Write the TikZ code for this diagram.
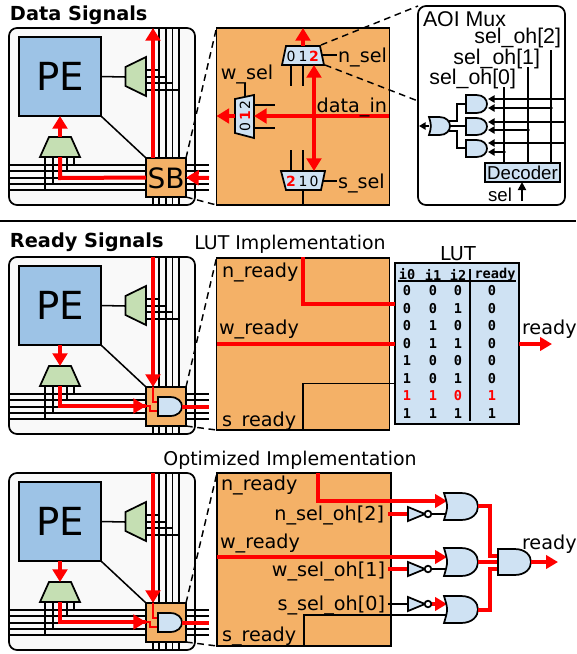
\documentclass[tikz,border=0pt]{standalone}
\usepackage{fontspec}
\setmainfont{DejaVu Sans}
\newfontfamily\arialf{Liberation Sans}
\newfontfamily\monof{DejaVu Sans Mono}
\usetikzlibrary{arrows.meta,calc}
\definecolor{pecol}{HTML}{9DC3E6}
\definecolor{muxcol}{HTML}{C5DFB3}
\definecolor{orcol}{HTML}{F4B167}
\definecolor{ltcol}{HTML}{CFE2F3}
\definecolor{tilecol}{HTML}{F9F9F9}
\tikzset{
  wire/.style={draw=black,line width=1.15pt},
  bd/.style={draw=black,line width=1.3pt,line join=miter},
  red wire/.style={draw=red,line width=3pt,line join=miter},
  red thin/.style={draw=red,line width=2.6pt,line join=miter},
  red arrow/.style={red wire,-{Triangle[length=9.5pt,width=11pt]}},
  red arrow small/.style={red thin,-{Triangle[length=9pt,width=10pt]}},
  red both/.style={red wire,{Triangle[length=9.5pt,width=11pt]}-{Triangle[length=9.5pt,width=11pt]}},
  blk arrow/.style={wire,-{Triangle[length=5pt,width=5.5pt]}},
  dash line/.style={draw=black,line width=1.1pt,dash pattern=on 5pt off 3.5pt},
  box/.style={draw=black,line width=1.3pt,inner sep=0pt,outer sep=0pt},
  lbl/.style={inner sep=0pt,outer sep=0pt,yshift=-1.5pt,font=\fontsize{14.4pt}{16pt}\selectfont},
  ttl/.style={inner sep=0pt,outer sep=0pt,yshift=-1.5pt,font=\fontsize{14.5pt}{16pt}\selectfont\bfseries},
  ar/.style={inner sep=0pt,outer sep=0pt,yshift=-1pt,font=\arialf\fontsize{16pt}{17pt}\selectfont},
  sm/.style={inner sep=0pt,outer sep=0pt,font=\fontsize{10.5pt}{11pt}\selectfont},
  smr/.style={sm,text=red,font=\fontsize{10.5pt}{11pt}\selectfont\bfseries},
  tb/.style={inner sep=0pt,outer sep=0pt,font=\monof\bfseries\fontsize{10.2pt}{11pt}\selectfont},
}
% gates: name, x1, y1, x2, y2
\newcommand\andgate[5]{%
  \draw[bd,fill=ltcol] (#2,#3) -- ({#2+0.5*(#4-#2)},#3) .. controls ({#2+0.5*(#4-#2)+0.6667*(#4-#2)},#3) and ({#2+0.5*(#4-#2)+0.6667*(#4-#2)},#5) .. ({#2+0.5*(#4-#2)},#5) -- (#2,#5) -- cycle;
  \coordinate (#1o) at (#4,{0.5*(#3+#5)});
}
\newcommand\orgate[5]{%
  \draw[bd,fill=ltcol] (#2,#3) -- ({#2+0.5*(#4-#2)},#3) .. controls ({#2+0.5*(#4-#2)+0.6667*(#4-#2)},#3) and ({#2+0.5*(#4-#2)+0.6667*(#4-#2)},#5) .. ({#2+0.5*(#4-#2)},#5) -- (#2,#5) .. controls ({#2+0.12*(#4-#2)},{0.5*(#3+#5)}) .. (#2,#3) -- cycle;
  \coordinate (#1o) at (#4,{0.5*(#3+#5)});
}
% tile base: prefix, y-offset in px
\newcommand\tilebase[2]{%
  \begin{scope}[yshift={-0.75pt*#2}]
  \node[box,fill=tilecol,rounded corners=6pt,minimum width=139.5pt,minimum height=132.75pt] (#1tile) at (102,116.5) {};
  \foreach \yy in {165,171,184,190} {\draw[wire] (9,\yy) -- (209,\yy);}
  \draw[wire] (9,178) -- (209,178);
  \foreach \xx in {159,166,172.5,179} {\draw[wire] (\xx,28) -- (\xx,205);}
  \draw[wire] (153,28) -- (153,205);
  \draw[wire] (146,70) -- (159,70);
  \draw[wire] (146,77) -- (166,77);
  \draw[wire] (146,83) -- (172.5,83);
  \draw[wire] (146,90) -- (179,90);
  \draw[wire] (45,157) -- (45,190);
  \draw[wire] (53,157) -- (53,184);
  \draw[wire] (67,157) -- (67,171);
  \draw[wire] (74,157) -- (74,165);
  \node[box,fill=pecol,minimum width=61.5pt,minimum height=59.25pt,font=\fontsize{29pt}{30pt}\selectfont] (#1pe) at (60,76.5) {PE};
  \draw[bd,fill=muxcol] (125.5,67) -- (146,57) -- (146,96) -- (125.5,86) -- cycle;
  \coordinate (#1mr) at (125.5,77);
  \draw[wire] (#1pe.east) -- (#1mr);
  \draw[bd,fill=muxcol] (40,157) -- (80,157) -- (71,137) -- (49,137) -- cycle;
  \coordinate (#1mb) at (60,137);
  \coordinate (#1mbo) at (60,157);
  \node[box,fill=orcol,minimum width=30pt,minimum height=29.25pt,font=\fontsize{21pt}{22pt}\selectfont] (#1sb) at (166,177.5) {};
  \coordinate (#1sbt) at (153,158);
  \coordinate (#1top) at (153,28);
  \draw[wire] (#1pe.south east) -- (#1sb.north west);
  \end{scope}
}
% AND-in-switch-box for ready tiles: prefix, offset
\newcommand\readytile[2]{%
  \tilebase{#1}{#2}%
  \begin{scope}[yshift={-0.75pt*#2}]
  \draw[red wire] (#1mbo) -- (60,177) -- (146,177);
  \coordinate (#1l) at (146,177);
  \draw[red arrow] (60,177) -- (#1l);
  \draw[red thin,line width=2pt] (#1sbt) -- (153,173) -- (158,173);
  \draw[red thin,line width=2pt] (#1l) -- (150,177) -- (150,182) -- (158,182);
  \draw[red arrow] (#1top) -- (#1sbt);
  \draw[red arrow] (#1pe.south) -- (#1mb);
  \andgate{#1g}{158}{168}{182}{187}
  \coordinate (#1ge) at (209,177.5);
  \draw[red wire] (#1go) -- (#1ge);
  \end{scope}
}
\begin{document}
\begin{tikzpicture}[x=0.75pt,y=-0.75pt]
\useasboundingbox (0,0) rectangle (576,654);
\fill[white] (0,0) rectangle (576,654);

% ---------- titles
\node[ttl,anchor=west] (t1) at (10,13) {Data Signals};
\node[ttl,anchor=west] (t2) at (10,240) {Ready Signals};
\node[lbl,anchor=center,font=\fontsize{14.2pt}{16pt}\selectfont] (t3) at (290,242) {LUT Implementation};
\node[lbl,anchor=center,font=\fontsize{14.2pt}{16pt}\selectfont] (t4) at (290,458) {Optimized Implementation};
\coordinate (divl) at (0,221); \coordinate (divr) at (576,221);
\draw[wire] (divl) -- (divr);

% ---------- data tile
\tilebase{a}{0}
\node[inner sep=0pt,font=\fontsize{21pt}{22pt}\selectfont] (asbt) at (166,178) {SB};
\draw[red arrow] (asb.north -| atop) -- (atop);
\coordinate (aw) at (209,178);
\draw[red arrow] (aw) -- (asb.east);
\draw[red wire] (asb.west) -- (60,178) -- (ambo);
\draw[red arrow] (amb) -- (ape.south);

% ---------- data zoom panel
\node[box,fill=orcol,minimum width=129.75pt,minimum height=132.75pt] (p1) at (303,116.5) {};
\draw[dash line] (asb.north east) -- (p1.north west);
\draw[dash line] (asb.south east) -- (p1.south west);
% stubs
\foreach \xx in {291,303} {\draw[wire] (\xx,65) -- (\xx,86);\draw[wire] (\xx,150) -- (\xx,171);}
\draw[wire] (303,190) -- (303,205);
\draw[wire] (254,105) -- (275,105);
\draw[wire] (254,128) -- (275,128);
\draw[wire] (245,97) -- (245,83);
\draw[wire] (320,55) -- (337,55);
\draw[wire] (323,181) -- (337,181);
% muxes
\draw[bd,fill=ltcol] (282,65) -- (324,65) -- (320,46) -- (286,46) -- cycle;
\coordinate (mnt) at (303,46);
\coordinate (mnb) at (314,65);
\draw[bd,fill=ltcol] (281,171) -- (325,171) -- (321,190) -- (286,190) -- cycle;
\coordinate (mst) at (314,171);
\draw[bd,fill=ltcol] (235,99) -- (254,95) -- (254,138) -- (235,133) -- cycle;
\coordinate (mwr) at (254,116);
\coordinate (mwl) at (235,116);
\node[sm] (n0) at (291,56) {0};
\node[sm] (n1) at (303,56) {1};
\node[smr] (n2) at (314,56) {2};
\node[smr] (s2) at (291,181) {2};
\node[sm] (s1) at (303,181) {1};
\node[sm] (s0) at (314,181) {0};
\node[sm,rotate=90] (w0) at (245,127) {0};
\node[smr,rotate=90] (w1) at (245,116) {1};
\node[sm,rotate=90] (w2) at (245,105) {2};
% red
\coordinate (din) at (389,116);
\draw[red arrow] (din) -- (mwr);
\draw[red arrow] (mwl) -- (p1.west|-mwl);
\draw[red arrow] (mnt) -- (mnt|-p1.north);
\draw[red both] (mnb) -- (mst);
\node[lbl,anchor=west] (nsel) at (338,55) {n\_sel};
\node[lbl,anchor=west] (ssel) at (338,181) {s\_sel};
\node[lbl,anchor=center] (wsel) at (247,72) {w\_sel};
\node[lbl,anchor=east] (dl) at (387,105) {data\_in};

% ---------- AOI panel
\node[box,fill=white,rounded corners=6pt,minimum width=110.25pt,minimum height=149.25pt] (aoi) at (491.5,105.5) {};
\coordinate (mntc) at (321,45); \coordinate (mnbc) at (325,65); \coordinate (aoil) at (418,101);
\draw[dash line] (mntc) -- (aoi.north west);
\draw[dash line] (mnbc) -- (aoil);
\node[ar,anchor=west] (aoit) at (423,17.5) {AOI Mux};
\node[ar,anchor=east] (oh2) at (561,36.5) {sel\_oh[2]};
\node[ar,anchor=east] (oh1) at (540,57.5) {sel\_oh[1]};
\node[ar,anchor=east] (oh0) at (516,78) {sel\_oh[0]};
\node[box,fill=ltcol,minimum width=56.25pt,minimum height=14.25pt,font=\arialf\fontsize{14pt}{15pt}\selectfont] (dec) at (522.5,172.5) {Decoder};
\node[inner sep=0pt,font=\arialf\fontsize{14pt}{15pt}\selectfont] (selt) at (500,195) {sel};
\coordinate (sel0) at (522,201);
\draw[wire,-{Triangle[length=6pt,width=6pt]},line width=1.3pt] (sel0) -- (dec.south -| sel0);
\coordinate (v0) at (504,87); \coordinate (v1) at (528,67); \coordinate (v2) at (551,50);
\draw[wire] (v0) -- (v0|-dec.north);
\draw[wire] (v1) -- (v1|-dec.north);
\draw[wire] (v2) -- (v2|-dec.north);
\foreach \yy in {99,122,143} {\draw[blk arrow] (565,\yy) -- (488,\yy);}
\draw[blk arrow] (551,108) -- (488,108);
\draw[blk arrow] (528,130) -- (488,130);
\draw[blk arrow] (504,152) -- (488,152);
\foreach \pp in {(551,108),(528,130),(504,152)} {\fill \pp circle (1.8);}
\draw[wire] (466,104) -- (457,104) -- (457,121) -- (449,121);
\draw[wire] (466,126) -- (449,126);
\draw[wire] (466,148) -- (457,148) -- (457,131) -- (449,131);
\andgate{ga}{466}{95}{487}{113}
\andgate{gb}{466}{118}{487}{135}
\andgate{gc}{466}{140}{487}{157}
\orgate{gd}{429}{117}{450}{135}
\coordinate (gdi) at (429,126); \coordinate (gdl) at (419,126);
\draw[blk arrow] (gdi) -- (gdl);

% ---------- ready tile 1
\readytile{b}{229}
\node[box,fill=orcol,minimum width=129.75pt,minimum height=129pt] (p2) at (303,344) {};
\draw[dash line] (bsb.north east) -- (p2.north west);
\draw[dash line] (bsb.south east) -- (p2.south west);
\node[lbl,anchor=west] (nr2) at (222,270) {n\_ready};
\node[lbl,anchor=west] (wr2) at (219,327) {w\_ready};
\node[lbl,anchor=west] (sr2) at (222,419) {s\_ready};
\node[lbl,anchor=center] (lutt) at (458,252) {LUT};
\node[box,fill=ltcol,minimum width=93pt,minimum height=120.75pt] (lut) at (457,343.5) {};
\coordinate (nt2) at (303,257); \coordinate (st2) at (303,430);
\draw[red thin] (nt2) -- (303,304) -- (lut.west|-0,304);
\draw[red thin] (p2.west|-0,344) -- (lut.west|-0,344);
\draw[wire] (lut.west|-0,383.5) -- (303,383.5) -- (st2);
\draw[red arrow small] (lut.east|-0,344) -- (552,344);
\node[lbl,anchor=west] (rd2) at (522,327) {ready};
\node[tb,anchor=center] (h0) at (407,274.5) {i0};
\node[tb,anchor=center] (h1) at (433,274.5) {i1};
\node[tb,anchor=center] (h2) at (458,274.5) {i2};
\node[tb,anchor=center] (h3) at (495,274.5) {ready};
\coordinate (hl) at (398,281); \coordinate (hr) at (516,281); \coordinate (vt) at (470,269); \coordinate (vb) at (470,421);
\draw[wire] (hl) -- (hr);
\draw[wire] (vt) -- (vb);
\foreach \a/\b/\c/\d/\yy/\cc/\k in {0/0/0/0/291/black/1,0/0/1/0/309/black/2,0/1/0/0/326/black/3,0/1/1/0/344/black/4,1/0/0/0/361/black/5,1/0/1/0/379/black/6,1/1/0/1/396/red/7,1/1/1/1/414/black/8}{
  \node[tb,text=\cc] (ra\k) at (407,\yy) {\a};
  \node[tb,text=\cc] (rb\k) at (433,\yy) {\b};
  \node[tb,text=\cc] (rc\k) at (458,\yy) {\c};
  \node[tb,text=\cc] (rd\k) at (492,\yy) {\d};
}

% ---------- ready tile 2
\readytile{c}{445}
\node[box,fill=orcol,minimum width=130.5pt,minimum height=129.75pt] (p3) at (304,559.5) {};
\draw[dash line] (csb.north east) -- (p3.north west);
\draw[dash line] (csb.south east) -- (p3.south west);
\node[lbl,anchor=west] (nr3) at (221,483) {n\_ready};
\node[lbl,anchor=west] (wr3) at (220,541) {w\_ready};
\node[lbl,anchor=west] (sr3) at (222,634) {s\_ready};
\node[lbl,anchor=east] (ns3) at (384,513) {n\_sel\_oh[2]};
\node[lbl,anchor=east] (ws3) at (385,569) {w\_sel\_oh[1]};
\node[lbl,anchor=east] (ss3) at (385,603) {s\_sel\_oh[0]};
% wires to gates
\coordinate (ntop) at (318,473); \coordinate (stop) at (304,646);
\coordinate (g1i) at (447,501); \coordinate (g2i) at (447,557); \coordinate (g3i) at (447,615);
\draw[red arrow small] (318,501) -- (g1i);
\draw[red thin] (ntop) -- (318,501) -- (430,501);
\draw[red arrow small] (p3.west|-g2i) -- (g2i);
\draw[wire] (stop) -- (304,615) -- (g3i);
% inverters
\foreach \nm/\yy/\cc in {a/514/red,b/569/red,c/604/black}{
  \coordinate (i\nm) at (408,\yy);
  \coordinate (l\nm) at (388,\yy);
}
\draw[red thin] (la) -- (ia);
\draw[red thin] (lb) -- (ib);
\draw[wire] (lc) -- (ic);
\coordinate (g1b) at (447,514); \coordinate (g2b) at (447,569); \coordinate (g3b) at (447,604);
\draw[wire] (431,514) -- (g1b);
\draw[wire] (431,569) -- (g2b);
\draw[red arrow small] (431,604) -- (g3b);
\foreach \nm/\yy in {a/514,b/569,c/604}{
  \draw[bd,fill=ltcol] (i\nm)++(0,-7) -- (425,\yy) -- (408,\yy+7) -- cycle;
  \draw[bd,fill=white] (428,\yy) circle (3.3);
}
\orgate{ha}{444}{493}{478}{520}
\orgate{hb}{444}{548}{478}{576}
\orgate{hc}{444}{596}{478}{623}
\draw[red thin] (478,506) -- (490,506) -- (490,556) -- (498,556);
\draw[red thin] (hbo) -- (498,562);
\draw[red thin] (478,610) -- (490,610) -- (490,569) -- (498,569);
\andgate{hd}{498}{549}{531}{575}
\coordinate (hde) at (558,562);
\draw[red arrow small] (hdo) -- (hde);
\node[lbl,anchor=west] (rd3) at (522,542) {ready};
\end{tikzpicture}
\end{document}
